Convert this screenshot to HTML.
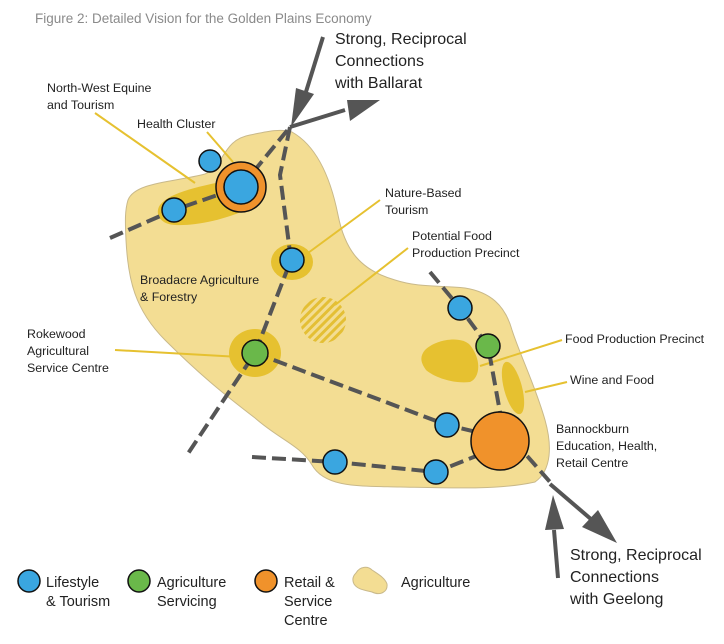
<!DOCTYPE html>
<html><head><meta charset="utf-8"><style>
html,body{margin:0;padding:0;background:#fff;}
svg{display:block;font-family:"Liberation Sans",sans-serif;}
.l{font-size:12.4px;fill:#222;}
.b{font-size:16px;fill:#222;}
</style></head><body>
<svg width="724" height="644" viewBox="0 0 724 644" xmlns="http://www.w3.org/2000/svg">
<defs>
<pattern id="h" width="6" height="6" patternUnits="userSpaceOnUse" patternTransform="rotate(-45)">
<rect width="6" height="6" fill="#f3dd93"/><rect width="6" height="3" fill="#e4bf35"/>
</pattern>
</defs>
<text x="35" y="23" font-size="13.5" fill="#8a8a8a">Figure 2: Detailed Vision for the Golden Plains Economy</text>

<path d="M128,200 C135,182 175,182 205,174 C225,166 222,140 250,135 C265,132 280,128 292,132 C315,145 330,175 338,215 C345,250 360,270 395,280 C420,288 440,285 465,288 C490,292 505,305 512,330 C520,355 535,385 545,420 C552,445 552,470 535,482 C500,490 450,488 400,487 C360,486 325,488 312,465 C300,445 280,440 255,418 C225,395 200,375 165,340 C135,310 128,280 126,240 C125,220 125,210 128,200 Z" fill="#f3dd93" stroke="#c9b98a" stroke-width="1"/>

<path d="M160,205 C170,192 200,186 240,178 C262,178 268,195 250,208 C225,220 195,226 175,225 C158,224 155,212 160,205 Z" fill="#e6c130"/>
<ellipse cx="292" cy="262" rx="21" ry="18" fill="#e6c130"/>
<ellipse cx="255" cy="353" rx="26" ry="24" fill="#e6c130"/>
<circle cx="323" cy="320" r="23" fill="url(#h)"/>
<path d="M425,350 C435,340 460,335 470,345 C482,360 480,378 470,382 C455,384 435,378 426,370 C420,362 420,356 425,350 Z" fill="#e6c130"/>
<ellipse cx="513" cy="388" rx="9" ry="27" transform="rotate(-15 513 388)" fill="#e6c130"/>

<g stroke="#e6c130" stroke-width="2" fill="none">
<line x1="95" y1="113" x2="195" y2="183"/>
<line x1="207" y1="132" x2="233" y2="162"/>
<line x1="380" y1="200" x2="308" y2="253"/>
<line x1="408" y1="248" x2="335" y2="305"/>
<line x1="115" y1="350" x2="240" y2="357"/>
<line x1="562" y1="340" x2="480" y2="366"/>
<line x1="567" y1="382" x2="525" y2="392"/>
</g>

<g stroke="#555" stroke-width="4" fill="none" stroke-dasharray="14,6">
<polyline points="110,238 174,210 241,187 290,127"/>
<polyline points="290,127 280,175 291,260 255,353 187,455"/>
<polyline points="255,353 447,425 514,441"/>
<polyline points="430,272 460,308 488,346 500,412"/>
<polyline points="252,457 335,462 436,472 514,441"/>
<polyline points="514,441 550,482"/>
</g>

<g fill="#555" stroke="#555">
<line x1="323" y1="37" x2="305" y2="95" stroke-width="4"/>
<polygon points="291,127 296,88 314,94" stroke="none"/>
<line x1="290" y1="127" x2="345" y2="110" stroke-width="4"/>
<polygon points="380,100 347,100 350,121" stroke="none"/>
<line x1="550" y1="484" x2="592" y2="520" stroke-width="4"/>
<polygon points="617,543 582,527 598,510" stroke="none"/>
<line x1="558" y1="578" x2="554" y2="530" stroke-width="4"/>
<polygon points="553,495 545,530 564,529" stroke="none"/>
</g>

<g stroke="#111" stroke-width="1.5">
<circle cx="241" cy="187" r="25" fill="#f0922b"/>
<circle cx="241" cy="187" r="17" fill="#3aa6e0"/>
<circle cx="210" cy="161" r="11" fill="#3aa6e0"/>
<circle cx="174" cy="210" r="12" fill="#3aa6e0"/>
<circle cx="292" cy="260" r="12" fill="#3aa6e0"/>
<circle cx="255" cy="353" r="13" fill="#6ab84a"/>
<circle cx="460" cy="308" r="12" fill="#3aa6e0"/>
<circle cx="488" cy="346" r="12" fill="#6ab84a"/>
<circle cx="447" cy="425" r="12" fill="#3aa6e0"/>
<circle cx="500" cy="441" r="29" fill="#f0922b"/>
<circle cx="335" cy="462" r="12" fill="#3aa6e0"/>
<circle cx="436" cy="472" r="12" fill="#3aa6e0"/>
</g>

<text class="l"><tspan x="47" y="92">North-West Equine</tspan><tspan x="47" y="109">and Tourism</tspan></text>
<text class="l" x="137" y="128">Health Cluster</text>
<text class="l"><tspan x="385" y="197">Nature-Based</tspan><tspan x="385" y="214">Tourism</tspan></text>
<text class="l"><tspan x="412" y="240">Potential Food</tspan><tspan x="412" y="257">Production Precinct</tspan></text>
<text class="l"><tspan x="140" y="284">Broadacre Agriculture</tspan><tspan x="140" y="301">&amp; Forestry</tspan></text>
<text class="l"><tspan x="27" y="338">Rokewood</tspan><tspan x="27" y="355">Agricultural</tspan><tspan x="27" y="372">Service Centre</tspan></text>
<text class="l" x="565" y="343">Food Production Precinct</text>
<text class="l" x="570" y="384">Wine and Food</text>
<text class="l"><tspan x="556" y="433">Bannockburn</tspan><tspan x="556" y="450">Education, Health,</tspan><tspan x="556" y="467">Retail Centre</tspan></text>
<text class="b"><tspan x="335" y="44">Strong, Reciprocal</tspan><tspan x="335" y="66">Connections</tspan><tspan x="335" y="88">with Ballarat</tspan></text>
<text class="b"><tspan x="570" y="560">Strong, Reciprocal</tspan><tspan x="570" y="582">Connections</tspan><tspan x="570" y="604">with Geelong</tspan></text>

<g stroke="#111" stroke-width="1.5">
<circle cx="29" cy="581" r="11" fill="#3aa6e0"/>
<circle cx="139" cy="581" r="11" fill="#6ab84a"/>
<circle cx="266" cy="581" r="11" fill="#f0922b"/>
</g>
<path d="M356,573 C360,566 368,566 372,570 C378,574 385,578 387,584 C388,592 380,596 372,592 C365,590 358,590 354,584 C352,580 353,576 356,573 Z" fill="#f3dd93" stroke="#c9b98a"/>
<g font-size="14.5" fill="#222">
<text><tspan x="46" y="587">Lifestyle</tspan><tspan x="46" y="606">&amp; Tourism</tspan></text>
<text><tspan x="157" y="587">Agriculture</tspan><tspan x="157" y="606">Servicing</tspan></text>
<text><tspan x="284" y="587">Retail &amp;</tspan><tspan x="284" y="606">Service</tspan><tspan x="284" y="625">Centre</tspan></text>
<text x="401" y="587">Agriculture</text>
</g>
</svg>
</body></html>
